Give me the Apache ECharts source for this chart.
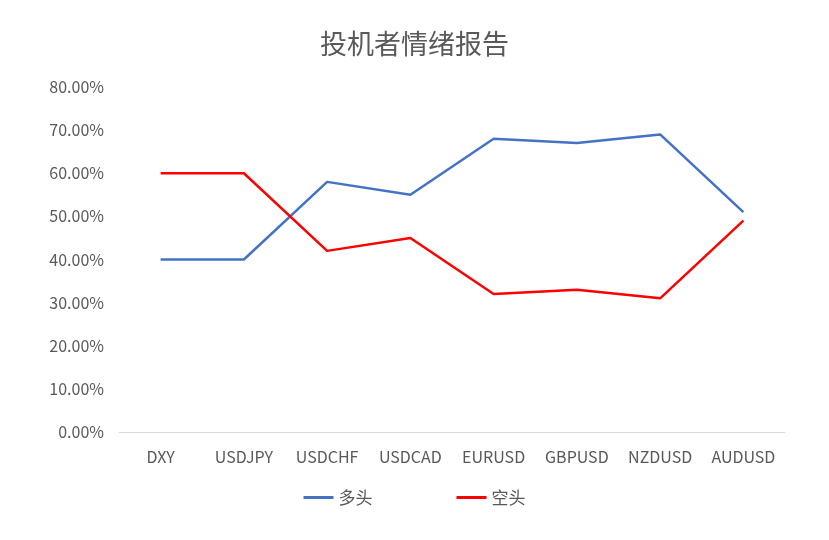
<!DOCTYPE html>
<html>
<head>
<meta charset="utf-8">
<script src="https://cdn.jsdelivr.net/npm/echarts@6/dist/echarts.min.js"></script>
<style>
  html, body { margin: 0; padding: 0; background: #fff; }
  #chart { width: 829px; height: 540px; }
</style>
</head>
<body>
<div id="chart"></div>
<script>
// 数据
const categories = ['DXY', 'USDJPY', 'USDCHF', 'USDCAD', 'EURUSD', 'GBPUSD', 'NZDUSD', 'AUDUSD'];
const longValues = [40, 40, 58, 55, 68, 67, 69, 51];   // 多头 (%)
const shortValues = [60, 60, 42, 45, 32, 33, 31, 49];  // 空头 (%)

const myChart = echarts.init(document.getElementById('chart'));
const textColor = '#595959';
const font = '"Microsoft YaHei", "Noto Sans CJK SC", sans-serif';

const option = {
  animation: false,
  title: {
    text: '投机者情绪报告',
    left: 'center',
    top: 25,
    textStyle: { color: textColor, fontSize: 27, fontWeight: 'normal', fontFamily: font }
  },
  grid: { left: 119, right: 44, top: 87, bottom: 108 },
  legend: {
    bottom: 29,
    left: 'center',
    itemGap: 84,
    itemWidth: 30,
    itemHeight: 3,
    icon: 'rect',
    textStyle: { color: textColor, fontSize: 17, fontFamily: font },
    data: ['多头', '空头']
  },
  xAxis: {
    type: 'category',
    data: categories,
    boundaryGap: true,
    axisLine: { show: true, lineStyle: { color: '#d9d9d9' } },
    axisTick: { show: false },
    axisLabel: { color: textColor, fontSize: 16, margin: 17, interval: 0, fontFamily: font }
  },
  yAxis: {
    type: 'value',
    min: 0,
    max: 80,
    interval: 10,
    axisLine: { show: false },
    axisTick: { show: false },
    splitLine: { show: false },
    axisLabel: {
      color: textColor,
      fontSize: 16,
      margin: 15,
      fontFamily: font,
      formatter: v => v.toFixed(2) + '%'
    }
  },
  series: [
    {
      name: '多头',
      type: 'line',
      data: longValues,
      color: '#4472c4',
      symbol: 'none',
      lineStyle: { width: 2.5 }
    },
    {
      name: '空头',
      type: 'line',
      data: shortValues,
      color: '#ff0000',
      symbol: 'none',
      lineStyle: { width: 2.5 }
    }
  ]
};
myChart.setOption(option);
</script>
</body>
</html>
